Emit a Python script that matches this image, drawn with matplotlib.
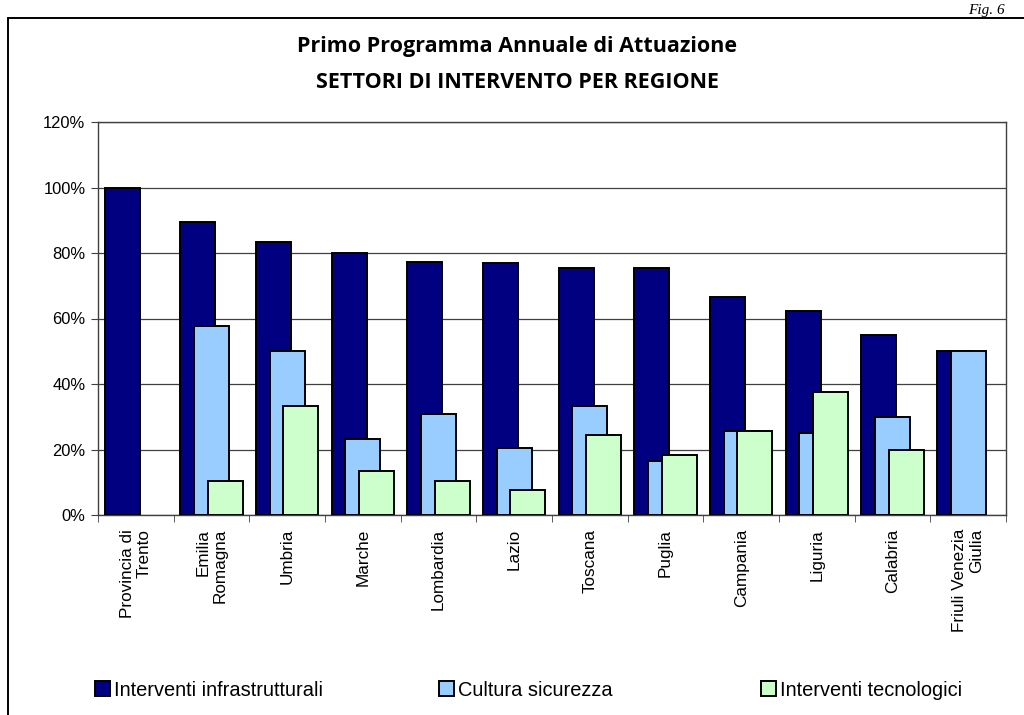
import numpy as np
import matplotlib
matplotlib.use("Agg")
import matplotlib.pyplot as plt
from matplotlib.patches import Rectangle, Patch
from matplotlib import font_manager

categories = ["Provincia di\nTrento", "Emilia\nRomagna", "Umbria", "Marche", "Lombardia",
              "Lazio", "Toscana", "Puglia", "Campania", "Liguria", "Calabria",
              "Friuli Venezia\nGiulia"]
infrastrutturali = [100, 89.4, 83.3, 80.0, 77.3, 76.9, 75.5, 75.3, 66.7, 62.4, 55.0, 50.0]
cultura = [0, 57.8, 50.0, 23.3, 30.8, 20.4, 33.3, 16.5, 25.7, 25.0, 30.0, 50.0]
tecnologici = [0, 10.5, 33.3, 13.3, 10.3, 7.6, 24.4, 18.2, 25.7, 37.5, 20.0, 0]
series_names = ["Interventi infrastrutturali", "Cultura sicurezza", "Interventi tecnologici"]
colors = ["#000080", "#99CCFF", "#CCFFCC"]
yticks = [0, 20, 40, 60, 80, 100, 120]

names = {f.name for f in font_manager.fontManager.ttflist}
if "Liberation Sans Narrow" in names:
    body = "Liberation Sans Narrow"
    scale = 1.0
else:
    body = "Liberation Sans"
    scale = 0.85

fig = plt.figure(figsize=(10.24, 7.15), dpi=100)
fig.patch.set_facecolor("white")

# outer frame
fig.add_artist(Rectangle((8/1024, -0.05), 1.1, 1 - 18/715 + 0.05, transform=fig.transFigure,
                         fill=False, edgecolor="black", linewidth=1.4))
fig.text(968/1024, 1 - 14/715, "Fig. 6", fontsize=11, family="Liberation Serif",
         style="italic", ha="left", va="baseline")

ax = fig.add_axes([98/1024, 1 - 515/715, 908/1024, (515 - 122)/715])
x = np.arange(len(categories))
w = 0.46
offs = [-0.18, 0.0, 0.18]
for vals, c, o, name in zip([infrastrutturali, cultura, tecnologici], colors, offs, series_names):
    v = np.array(vals, dtype=float)
    mask = v > 0
    ax.bar(x[mask] + o, v[mask], width=w, color=c, edgecolor="black", linewidth=1.4,
           label=name, zorder=3)

ax.set_xlim(-0.5, len(categories) - 0.5)
ax.set_ylim(0, 120)
ax.set_yticks(yticks)
ax.set_yticklabels([f"{t}%" for t in yticks], family=body, fontsize=14 * scale)
ax.yaxis.grid(True, color="#404040", linewidth=0.9, zorder=0)
ax.set_axisbelow(True)
ax.tick_params(axis="y", direction="out", length=5, color="#404040", pad=4)

ax.set_xticks(x)
ax.set_xticklabels(categories, rotation=90, family=body, fontsize=14.5 * scale,
                   va="top", ha="center", multialignment="right", linespacing=1.15)
ax.tick_params(axis="x", which="major", length=0, pad=10)
ax.set_xticks(np.arange(len(categories) + 1) - 0.5, minor=True)
ax.tick_params(axis="x", which="minor", direction="out", length=5, color="#404040")
for s in ax.spines.values():
    s.set_color("#404040")
    s.set_linewidth(1.0)

fig.text(0.505, 1 - 52/715, "Primo Programma Annuale di Attuazione", ha="center", va="baseline",
         fontsize=15.5, fontweight="bold", family="Open Sans")
fig.text(0.505, 1 - 88/715, "SETTORI DI INTERVENTO PER REGIONE", ha="center", va="baseline",
         fontsize=15.5, fontweight="bold", family="Open Sans")

handles = [Patch(facecolor=c, edgecolor="black", linewidth=1.4) for c in colors]
xs = [95, 439, 761]
for h, name, xx in zip(handles, series_names, xs):
    fig.legend([h], [name], loc="center left", bbox_to_anchor=(xx/1024, 1 - 690/715),
               frameon=False, handlelength=0.75, handleheight=0.8, handletextpad=0.2,
               prop={"family": body, "size": 17 * scale}, borderaxespad=0,
               borderpad=0)

fig.savefig("out.png", dpi=100, facecolor="white")
